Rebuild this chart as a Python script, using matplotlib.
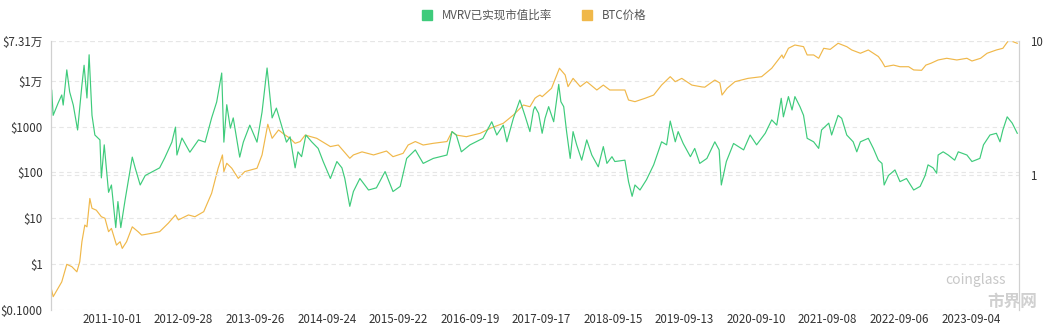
import numpy as np
import pandas as pd
import matplotlib
matplotlib.use("Agg")
import matplotlib.pyplot as plt
from matplotlib.lines import Line2D

plt.rcParams['font.family'] = ['Noto Sans CJK SC', 'DejaVu Sans']

# MVRV 已实现市值比率 (decimal year, value)
mvrv_t = [2010.91, 2010.93, 2011.00, 2011.05, 2011.07, 2011.12, 2011.16, 2011.21, 2011.27, 2011.33,
          2011.36, 2011.40, 2011.43, 2011.47, 2011.51, 2011.58, 2011.60, 2011.64, 2011.70, 2011.74,
          2011.80, 2011.83, 2011.87, 2011.93, 2012.03, 2012.07, 2012.14, 2012.21, 2012.30, 2012.41,
          2012.48, 2012.58, 2012.63, 2012.65, 2012.72, 2012.83, 2012.95, 2013.04, 2013.13, 2013.20,
          2013.27, 2013.30, 2013.34, 2013.39, 2013.43, 2013.52, 2013.57, 2013.66, 2013.76, 2013.83,
          2013.90, 2013.97, 2014.03, 2014.10, 2014.17, 2014.22, 2014.29, 2014.33, 2014.38, 2014.44,
          2014.52, 2014.61, 2014.68, 2014.78, 2014.87, 2014.94, 2014.98, 2015.05, 2015.10, 2015.19,
          2015.31, 2015.42, 2015.54, 2015.65, 2015.75, 2015.84, 2015.96, 2016.07, 2016.21, 2016.40,
          2016.47, 2016.53, 2016.60, 2016.72, 2016.90, 2017.02, 2017.09, 2017.18, 2017.23, 2017.32,
          2017.41, 2017.48, 2017.55, 2017.60, 2017.62, 2017.67, 2017.72, 2017.76, 2017.81, 2017.88,
          2017.95, 2017.98, 2018.02, 2018.06, 2018.11, 2018.15, 2018.20, 2018.27, 2018.34, 2018.41,
          2018.50, 2018.57, 2018.62, 2018.69, 2018.73, 2018.87, 2018.92, 2018.97, 2019.01, 2019.08,
          2019.17, 2019.27, 2019.38, 2019.45, 2019.50, 2019.57, 2019.61, 2019.68, 2019.78, 2019.84,
          2019.91, 2020.01, 2020.12, 2020.18, 2020.21, 2020.28, 2020.38, 2020.52, 2020.61, 2020.70,
          2020.82, 2020.91, 2020.98, 2021.04, 2021.07, 2021.14, 2021.19, 2021.23, 2021.30, 2021.35,
          2021.40, 2021.49, 2021.56, 2021.60, 2021.70, 2021.74, 2021.83, 2021.88, 2021.95, 2022.04,
          2022.09, 2022.14, 2022.25, 2022.32, 2022.39, 2022.44, 2022.47, 2022.53, 2022.62, 2022.69,
          2022.78, 2022.88, 2022.97, 2023.04, 2023.08, 2023.15, 2023.20, 2023.22, 2023.29, 2023.36,
          2023.45, 2023.50, 2023.62, 2023.69, 2023.80, 2023.85, 2023.94, 2024.03, 2024.08, 2024.12,
          2024.18, 2024.25, 2024.32]
mvrv = [4.3, 2.8, 3.46, 3.97, 3.34, 6.1, 4.18, 3.34, 2.18, 4.7,
        6.6, 3.77, 7.9, 2.8, 2.0, 1.84, 0.96, 1.69, 0.75, 0.85,
        0.41, 0.64, 0.41, 0.66, 1.37, 1.14, 0.85, 1.0, 1.06, 1.14,
        1.35, 1.77, 2.29, 1.42, 1.9, 1.49, 1.84, 1.77, 2.68, 3.52,
        5.78, 1.77, 3.36, 2.25, 2.68, 1.37, 1.77, 2.37, 1.77, 2.96,
        6.3, 2.68, 3.17, 2.37, 1.77, 1.94, 1.14, 1.5, 1.38, 2.0,
        1.78, 1.59, 1.27, 0.95, 1.27, 1.14, 0.95, 0.59, 0.76, 0.95,
        0.78, 0.81, 1.07, 0.76, 0.83, 1.34, 1.55, 1.23, 1.34, 1.42,
        2.12, 2.0, 1.5, 1.69, 1.89, 2.51, 2.0, 2.37, 1.78, 2.66,
        3.64, 2.8, 2.12, 3.07, 3.25, 2.9, 2.06, 2.66, 3.25, 2.51,
        4.76, 3.54, 3.25, 2.12, 1.34, 2.12, 1.69, 1.30, 1.84, 1.42,
        1.16, 1.64, 1.23, 1.38, 1.27, 1.30, 0.90, 0.70, 0.85, 0.78,
        0.93, 1.2, 1.78, 1.69, 2.54, 1.78, 2.12, 1.73, 1.38, 1.59,
        1.23, 1.34, 1.78, 1.55, 0.85, 1.27, 1.73, 1.55, 2.0, 1.69,
        2.06, 2.59, 2.37, 3.75, 2.73, 3.86, 3.07, 3.86, 3.25, 2.8,
        1.89, 1.78, 1.59, 2.18, 2.45, 2.0, 2.8, 2.66, 2.0, 1.78,
        1.5, 1.78, 1.89, 1.59, 1.30, 1.23, 0.85, 1.0, 1.10, 0.90,
        0.95, 0.78, 0.83, 1.0, 1.2, 1.14, 1.04, 1.42, 1.5, 1.42,
        1.30, 1.5, 1.42, 1.27, 1.34, 1.69, 2.0, 2.06, 1.78, 2.18,
        2.73, 2.45, 2.06]

# BTC 价格 (decimal year, USD)
btc_t = [2010.91, 2010.93, 2011.00, 2011.05, 2011.12, 2011.19, 2011.26, 2011.30, 2011.33, 2011.37,
         2011.40, 2011.44, 2011.47, 2011.53, 2011.60, 2011.65, 2011.70, 2011.74, 2011.81, 2011.86,
         2011.89, 2011.95, 2012.03, 2012.11, 2012.16, 2012.30, 2012.41, 2012.53, 2012.63, 2012.67,
         2012.81, 2012.90, 2013.02, 2013.13, 2013.22, 2013.28, 2013.30, 2013.34, 2013.41, 2013.50,
         2013.59, 2013.76, 2013.83, 2013.91, 2013.97, 2014.06, 2014.15, 2014.22, 2014.29, 2014.36,
         2014.43, 2014.59, 2014.78, 2014.89, 2015.05, 2015.10, 2015.22, 2015.38, 2015.56, 2015.65,
         2015.79, 2015.86, 2015.96, 2016.07, 2016.21, 2016.40, 2016.47, 2016.53, 2016.67, 2016.86,
         2017.00, 2017.18, 2017.32, 2017.46, 2017.55, 2017.62, 2017.65, 2017.69, 2017.72, 2017.85,
         2017.96, 2018.04, 2018.08, 2018.15, 2018.25, 2018.34, 2018.48, 2018.57, 2018.66, 2018.87,
         2018.92, 2019.01, 2019.15, 2019.27, 2019.38, 2019.50, 2019.57, 2019.66, 2019.80, 2019.94,
         2019.98, 2020.12, 2020.19, 2020.22, 2020.29, 2020.40, 2020.58, 2020.77, 2020.91, 2021.05,
         2021.07, 2021.14, 2021.23, 2021.35, 2021.40, 2021.49, 2021.56, 2021.63, 2021.72, 2021.83,
         2021.95, 2022.02, 2022.14, 2022.25, 2022.39, 2022.44, 2022.48, 2022.60, 2022.69, 2022.81,
         2022.88, 2022.99, 2023.05, 2023.12, 2023.22, 2023.34, 2023.48, 2023.62, 2023.69, 2023.81,
         2023.90, 2024.03, 2024.12, 2024.18, 2024.20, 2024.25, 2024.32]
btc = [0.27, 0.195, 0.30, 0.41, 0.99, 0.88, 0.68, 1.13, 3.08, 7.1,
       6.5, 27, 16.5, 15, 10.8, 10, 5.1, 6.0, 2.6, 3.08,
       2.2, 3.08, 6.5, 5.1, 4.3, 4.7, 5.1, 7.8, 11.8, 9.2,
       11.8, 10.8, 13.9, 35, 123, 240, 104, 158, 123, 74,
       104, 123, 240, 1120, 553, 840, 653, 553, 430, 470,
       650, 553, 365, 395, 203, 240, 280, 240, 292, 220,
       260, 395, 470, 395, 430, 470, 770, 650, 600, 710,
       915, 1175, 1780, 2940, 2700, 4120, 4470, 4850, 4470, 6800,
       18600, 13300, 7400, 11200, 7400, 9500, 6250, 8000, 6250, 6250,
       3780, 3480, 4120, 4850, 8000, 12200, 9500, 11200, 8000, 7300,
       7200, 10300, 8900, 4850, 6800, 9500, 11200, 12200, 18600, 36300,
       30700, 50700, 59800, 55000, 36300, 36300, 30700, 50700, 48000, 65200,
       55000, 46600, 39500, 46600, 33500, 25900, 20100, 21800, 20100, 20100,
       17100, 16800, 21800, 23900, 28200, 30700, 28200, 30700, 26800, 30700,
       39500, 46600, 50700, 68500, 73100, 71500, 65200]

x_ticks = ["2011-10-01", "2012-09-28", "2013-09-26", "2014-09-24", "2015-09-22",
           "2016-09-19", "2017-09-17", "2018-09-15", "2019-09-13", "2020-09-10",
           "2021-09-08", "2022-09-06", "2023-09-04"]
price_ticks = [0.1, 1, 10, 100, 1000, 10000, 73100]
price_labels = ["$0.1000", "$1", "$10", "$100", "$1000", "$1万", "$7.31万"]
mvrv_ticks = [1, 10]


def to_date(y):
    yr = int(np.floor(y))
    return pd.Timestamp(year=yr, month=1, day=1) + pd.Timedelta(days=(y - yr) * 365.25)


green = "#3ecb7b"
yellow = "#f0b84a"
grid_c = "#e6e6e6"
text_c = "#333333"

fig = plt.figure(figsize=(10.56, 3.28), dpi=100)
ax = fig.add_axes([51 / 1056, 18 / 328, 968 / 1056, 269 / 328])
ax2 = ax.twinx()

ax.plot([to_date(v) for v in btc_t], btc, color=yellow, lw=0.85)
ax2.plot([to_date(v) for v in mvrv_t], mvrv, color=green, lw=0.85)

ax.set_yscale("log")
ax.set_ylim(0.1, 73100)
ax.set_yticks(price_ticks)
ax.set_yticklabels(price_labels)
ax.minorticks_off()

ax2.set_yscale("log")
ax2.set_ylim(0.1, 10)
ax2.set_yticks(mvrv_ticks)
ax2.set_yticklabels(["1", "10"])
ax2.minorticks_off()

ax.set_xlim(to_date(2010.90), to_date(2024.344))
ax.set_xticks([pd.Timestamp(d) for d in x_ticks])
ax.set_xticklabels(x_ticks)

for t in price_ticks:
    ax.axhline(t, color=grid_c, lw=0.8, ls=(0, (4, 3)), zorder=0)
for t in mvrv_ticks:
    ax2.axhline(t, color=grid_c, lw=0.8, ls=(0, (4, 3)), zorder=0)

for a in (ax, ax2):
    for s in ("top", "bottom"):
        a.spines[s].set_visible(False)
    a.spines["left"].set_color("#d0d0d0")
    a.spines["right"].set_color("#d0d0d0")
    a.tick_params(length=0, labelsize=8.3, colors=text_c)
ax.tick_params(axis="x", pad=2)
ax.tick_params(axis="y", pad=6)
ax2.tick_params(axis="y", pad=8)

handles = [Line2D([], [], marker="s", ls="", color=green, markersize=7),
           Line2D([], [], marker="s", ls="", color=yellow, markersize=7)]
fig.legend(handles, ["MVRV已实现市值比率", "BTC价格"], loc="center", ncol=2,
           bbox_to_anchor=(0.503, 0.953), frameon=False, fontsize=8.3,
           labelcolor="#555555", handletextpad=0.3, columnspacing=2.0)

# watermark
fig.text(0.895, 0.135, "coinglass", color="#c8c8c8", fontsize=10, ha="left")
fig.text(0.935, 0.065, "市界网", color="#d0d0d0", fontsize=12, ha="left", weight="bold")

fig.savefig("out.png", dpi=100)
